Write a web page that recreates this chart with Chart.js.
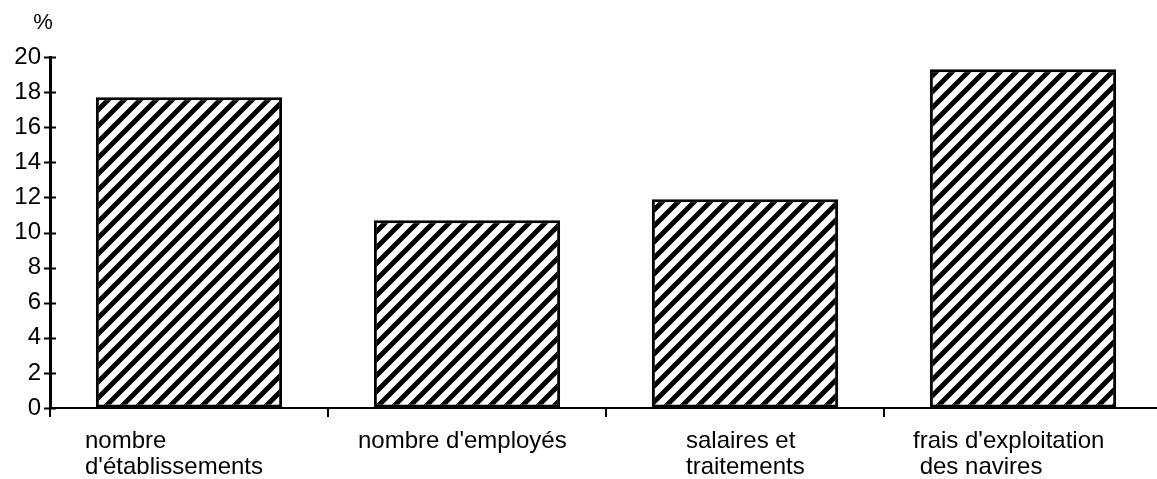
<!DOCTYPE html>
<html><head><meta charset="utf-8">
<script src="https://cdn.jsdelivr.net/npm/chart.js@4"></script>
<style>html,body{margin:0;padding:0;overflow:hidden;background:#fff}#wrap{width:1170px;height:479px;position:relative}</style>
</head><body><div id="wrap"><canvas id="c"></canvas></div>
<script>
// ---- data ----
const categories = [["nombre", "d'établissements"], ["nombre d'employés"], ["salaires et", "traitements"], ["frais d'exploitation", " des navires"]];
const values = [17.7, 10.7, 11.9, 19.3];
const yTickValues = [0, 2, 4, 6, 8, 10, 12, 14, 16, 18, 20];
const yUnit = "%";

// label start offsets relative to category centre (layout only)
const labelShift = [-104, -109, -59, -110];
const FONT = "'Liberation Sans', Arial, Helvetica, sans-serif";

function hatchPattern() {
  const p = 16, s = 32;
  const c = document.createElement('canvas');
  c.width = s; c.height = s;
  const g = c.getContext('2d');
  g.fillStyle = '#fff'; g.fillRect(0, 0, s, s);
  g.strokeStyle = '#000'; g.lineWidth = 5;
  g.beginPath();
  for (let k = -3; k <= 3; k++) { g.moveTo(k * p - 4, s + 4); g.lineTo(k * p + s + 4, -4); }
  g.stroke();
  return g.createPattern(c, 'repeat');
}

const decor = {
  id: 'decor',
  afterDraw(chart) {
    const ctx = chart.ctx, y = chart.scales.y, x = chart.scales.x;
    ctx.save();
    ctx.strokeStyle = '#000'; ctx.lineWidth = 2;
    yTickValues.forEach(v => {
      const py = Math.round(y.getPixelForValue(v)) + 0.5;
      ctx.beginPath(); ctx.moveTo(y.right - 6, py); ctx.lineTo(y.right + 6, py); ctx.stroke();
    });
    ctx.fillStyle = '#000';
    ctx.font = "22px " + FONT;
    ctx.textAlign = 'center'; ctx.textBaseline = 'middle';
    ctx.fillText(yUnit, y.right - 7, y.top - 34);
    ctx.font = "24px " + FONT;
    ctx.textAlign = 'left';
    categories.forEach((lab, i) => {
      const cx = x.getPixelForValue(i) + labelShift[i];
      lab.forEach((line, j) => ctx.fillText(line, cx, x.top + 33 + j * 26));
    });
    ctx.restore();
  }
};

new Chart(document.getElementById('c'), {
  type: 'bar',
  data: {
    labels: categories,
    datasets: [{
      data: values,
      backgroundColor: hatchPattern(),
      borderColor: '#000',
      borderWidth: 3,
      borderSkipped: false,
      barPercentage: 0.67,
      categoryPercentage: 1
    }]
  },
  options: {
    responsive: true,
    maintainAspectRatio: false,
    animation: false,
    layout: { padding: { top: 57, right: 8, left: 0, bottom: 0 } },
    plugins: { legend: { display: false }, tooltip: { enabled: false }, title: { display: false } },
    scales: {
      x: {
        type: 'category',
        offset: true,
        ticks: { display: false },
        grid: { display: true, offset: true, drawOnChartArea: false, drawTicks: true, tickLength: 9, color: '#000', lineWidth: 2 },
        border: { display: true, color: '#000', width: 2 },
        afterFit(s) { s.height = 71; }
      },
      y: {
        min: 0, max: 20,
        afterBuildTicks(s) { s.ticks = yTickValues.map(v => ({ value: v })); },
        ticks: { color: '#000', font: { family: FONT, size: 24 }, padding: 9 },
        grid: { display: true, drawOnChartArea: false, drawTicks: false },
        border: { display: true, color: '#000', width: 3 },
        afterFit(s) { s.width = 50; }
      }
    }
  },
  plugins: [decor]
});
</script></body></html>
